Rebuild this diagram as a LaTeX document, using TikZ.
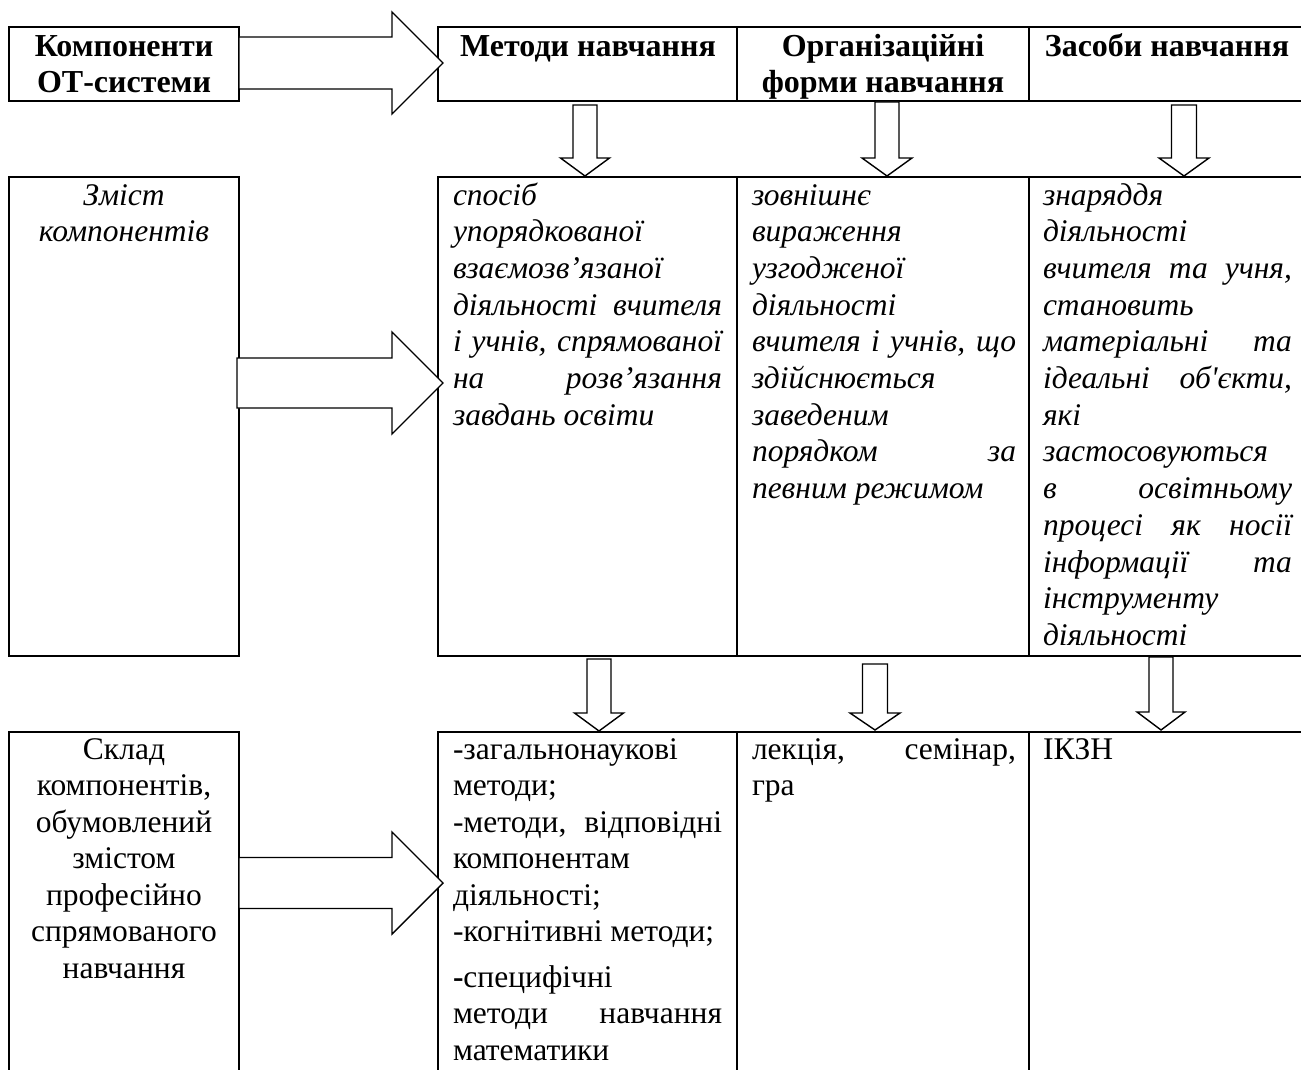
\documentclass[tikz,border=0pt]{standalone}
\usepackage{fontspec}
\setmainfont{Liberation Serif}[Ligatures=TeXOff]
\usetikzlibrary{calc}

% table cells, block arrows and cell texts
\tikzset{
  cell/.style={draw, line width=2pt, rectangle, anchor=north west,
               inner sep=0pt, outer sep=0pt},
  blockarrow/.style={draw, fill=white, line width=1.4pt, line join=miter},
  txt/.style={anchor=base west, inner sep=0pt, outer sep=0pt},
  ctxt/.style={anchor=base, inner sep=0pt, outer sep=0pt},
}
\newcommand\hdfont{\fontsize{32pt}{36pt}\bfseries\selectfont}
\newcommand\itfont{\fontsize{31.5pt}{36.7pt}\itshape\selectfont}
\newcommand\upfont{\fontsize{31.5pt}{36.5pt}\selectfont}
% a justified line filling the whole cell width
\newcommand\J[1]{\makebox[\linewidth][s]{#1}}

% hollow block arrow pointing down: start, tip, shaft half-width, head half-width, head length
\newcommand\blkdown[5]{%
  \draw[blockarrow] let \p1=(#1), \p2=(#2) in
    (\x1-#3pt,\y1) -- (\x1+#3pt,\y1) -- (\x1+#3pt,\y2+#5pt) -- (\x1+#4pt,\y2+#5pt)
    -- (\x1,\y2) -- (\x1-#4pt,\y2+#5pt) -- (\x1-#3pt,\y2+#5pt) -- cycle;}
% hollow block arrow pointing right: start, tip, shaft half-width, head half-width, head length
\newcommand\blkright[5]{%
  \draw[blockarrow] let \p1=(#1), \p2=(#2) in
    (\x1,\y2+#3pt) -- (\x2-#5pt,\y2+#3pt) -- (\x2-#5pt,\y2+#4pt) -- (\x2,\y2)
    -- (\x2-#5pt,\y2-#4pt) -- (\x2-#5pt,\y2-#3pt) -- (\x1,\y2-#3pt) -- cycle;}

\begin{document}
\begin{tikzpicture}[x=1pt, y=-1pt]
\useasboundingbox (0,0) rectangle (1301,1070);
\fill[white] (0,0) rectangle (1301,1070);
\clip (0,0) rectangle (1301,1070);

% ---- header row
\node[cell, minimum width=230pt, minimum height=74pt] (h0) at (9,27) {};
\node[cell, minimum width=299pt, minimum height=74pt] (h1) at (438,27) {};
\node[cell, minimum width=292pt, minimum height=74pt] (h2) at (737,27) {};
\node[cell, minimum width=290pt, minimum height=74pt] (h3) at (1029,27) {};

% ---- content row
\node[cell, minimum width=230pt, minimum height=479pt] (r0) at (9,177) {};
\node[cell, minimum width=299pt, minimum height=479pt] (r1) at (438,177) {};
\node[cell, minimum width=292pt, minimum height=479pt] (r2) at (737,177) {};
\node[cell, minimum width=290pt, minimum height=479pt] (r3) at (1029,177) {};

% ---- composition row
\node[cell, minimum width=230pt, minimum height=360pt] (s0) at (9,732) {};
\node[cell, minimum width=299pt, minimum height=360pt] (s1) at (438,732) {};
\node[cell, minimum width=292pt, minimum height=360pt] (s2) at (737,732) {};
\node[cell, minimum width=290pt, minimum height=360pt] (s3) at (1029,732) {};

% ---- texts of the header row
\node[ctxt] (t0) at (124,57) {\parbox[t]{230pt}{\centering\hdfont Компоненти\\ОТ-системи}};
\node[ctxt] (t1) at (588,57) {\hdfont Методи навчання};
\node[ctxt] (t2) at (883,57) {\parbox[t]{292pt}{\centering\hdfont Організаційні\\форми навчання}};
\node[ctxt] (t3) at (1167,57) {\hdfont Засоби навчання};

% ---- texts of the content row
\node[ctxt] (z0) at (124,205) {\parbox[t]{230pt}{\centering\itfont Зміст\\компонентів}};
\node[txt] (z1) at (453,205) {\parbox[t]{269pt}{\itfont
  спосіб\\
  упорядкованої\\
  взаємозв’язаної\\
  \J{діяльності вчителя}\\
  \J{і учнів, спрямованої}\\
  \J{на розв’язання}\\
  завдань освіти}};
\node[txt] (z2) at (752,205) {\parbox[t]{264pt}{\itfont
  зовнішнє\\
  вираження\\
  узгодженої\\
  діяльності\\
  \J{вчителя і учнів, що}\\
  здійснюється\\
  заведеним\\
  \J{порядком за}\\
  певним режимом}};
\node[txt] (z3) at (1043,205) {\parbox[t]{249pt}{\itfont
  знаряддя\\
  діяльності\\
  \J{вчителя та учня,}\\
  становить\\
  \J{матеріальні та}\\
  \J{ідеальні об'єкти,}\\
  які\\
  застосовуються\\
  \J{в освітньому}\\
  \J{процесі як носії}\\
  \J{інформації та}\\
  інструменту\\
  діяльності}};

% ---- texts of the composition row
\node[ctxt] (k0) at (124,759) {\parbox[t]{230pt}{\centering\upfont
  Склад\\компонентів,\\обумовлений\\змістом\\професійно\\спрямованого\\навчання}};
\node[txt] (k1) at (453,759) {\parbox[t]{269pt}{\upfont
  -загальнонаукові\\
  методи;\\
  \J{-методи, відповідні}\\
  компонентам\\
  діяльності;\\
  -когнітивні методи;\\[9pt]
  \textbf{-}специфічні\\
  \J{методи навчання}\\
  математики}};
\node[txt] (k2) at (752,759) {\parbox[t]{264pt}{\upfont
  \J{лекція, семінар,}\\
  гра}};
\node[txt] (k3) at (1043,759) {\upfont ІКЗН};

% ---- arrow end points
\coordinate (a0) at (443,63);
\coordinate (b0s) at (237,383);
\coordinate (b0) at (443,383);
\coordinate (c0s) at (239,883);
\coordinate (c0) at (443,883);
\coordinate (d1s) at (585,105);   \coordinate (d1) at (585,176);
\coordinate (d2s) at (887,102);   \coordinate (d2) at (887,176);
\coordinate (d3s) at (1184,105);  \coordinate (d3) at (1184,176);
\coordinate (e1s) at (599,659);   \coordinate (e1) at (599,731);
\coordinate (e2s) at (875,664);   \coordinate (e2) at (875,730);
\coordinate (e3s) at (1161,657);  \coordinate (e3) at (1161,730);

% ---- arrows from the row titles to the table
\blkright{h0.east}{a0}{26}{51}{51}
\blkright{b0s}{b0}{25}{51}{51}
\blkright{c0s}{c0}{25.5}{51}{51}

% ---- arrows down the columns
\blkdown{d1s}{d1}{12}{24.5}{18}
\blkdown{d2s}{d2}{12}{25}{18}
\blkdown{d3s}{d3}{12.5}{25}{18}
\blkdown{e1s}{e1}{12}{24.5}{18}
\blkdown{e2s}{e2}{12.5}{25}{17}
\blkdown{e3s}{e3}{12}{24}{18}
\end{tikzpicture}
\end{document}
